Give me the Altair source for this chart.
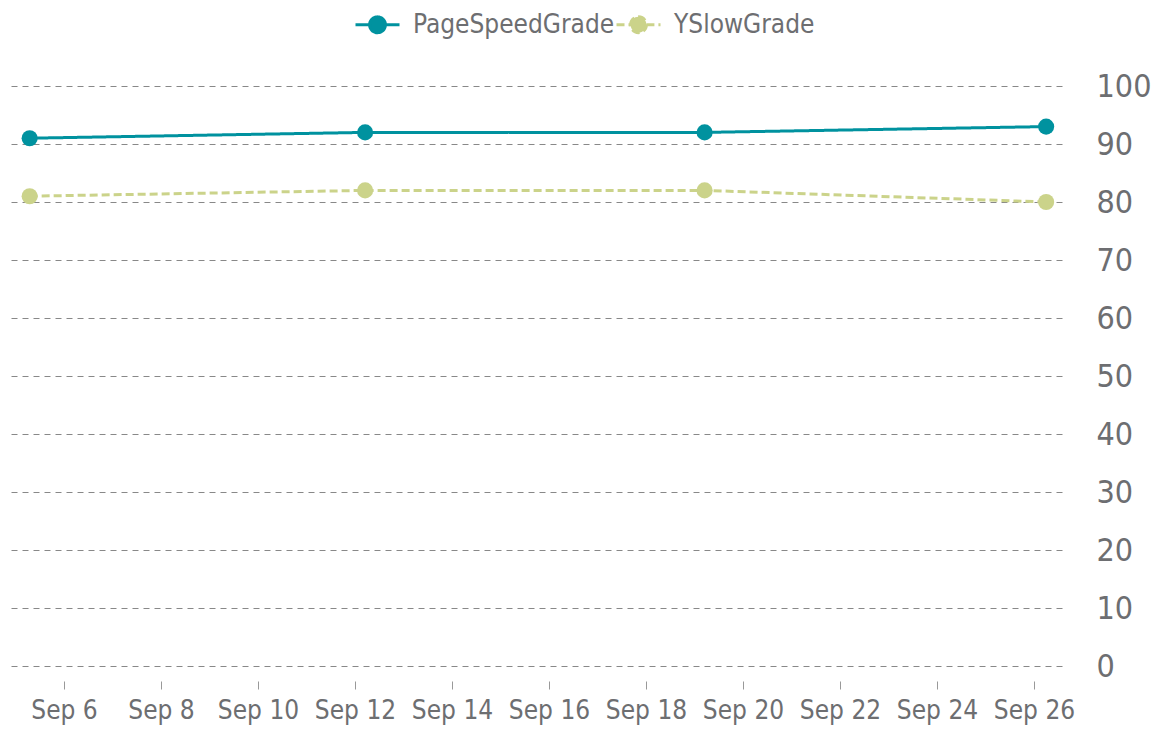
import altair as alt
import pandas as pd

series_names = ["PageSpeedGrade", "YSlowGrade"]
dates = ["2012-09-05T07:00:00Z", "2012-09-12T05:00:00Z", "2012-09-19T05:00:00Z", "2012-09-26T06:00:00Z"]
pagespeed = [91, 92, 92, 93]
yslow = [81, 82, 82, 80]
y_ticks = [0, 10, 20, 30, 40, 50, 60, 70, 80, 90, 100]
x_tick_days = [6, 8, 10, 12, 14, 16, 18, 20, 22, 24, 26]

rows = []
for d, v in zip(dates, pagespeed):
    rows.append({"date": d, "series": series_names[0], "value": v})
for d, v in zip(dates, yslow):
    rows.append({"date": d, "series": series_names[1], "value": v})
df = pd.DataFrame(rows)

FONT = "DejaVu Sans Condensed"
TXT = "#6d6e71"
colors = ["#00929f", "#cbd38a"]

x_values = [alt.DateTime(year=2012, month=9, date=d, utc=True) for d in x_tick_days]
x_domain = [
    alt.DateTime(year=2012, month=9, date=4, hours=20, minutes=17, utc=True),
    alt.DateTime(year=2012, month=9, date=26, hours=13, minutes=51, utc=True),
]

x = alt.X(
    "date:T",
    scale=alt.Scale(type="utc", domain=x_domain),
    axis=alt.Axis(
        values=x_values, format="%b %-d", title=None, grid=False, domain=False,
        ticks=True, tickSize=8, tickColor="#999999", tickWidth=1, offset=15,
        labelFont=FONT, labelFontSize=26, labelColor=TXT, labelPadding=8,
    ),
)
y = alt.Y(
    "value:Q",
    scale=alt.Scale(domain=[0, 100], nice=False),
    axis=alt.Axis(
        orient="right", values=y_ticks, title=None, domain=False, ticks=False,
        grid=True, gridDash=[6, 5], gridColor="#888888", gridWidth=1,
        labelFont=FONT, labelFontSize=32, labelColor=TXT, labelPadding=34,
    ),
)
color = alt.Color(
    "series:N",
    scale=alt.Scale(domain=series_names, range=colors),
    legend=alt.Legend(
        title=None, orient="none", direction="horizontal", legendX=346, legendY=-85,
        labelFont=FONT, labelFontSize=26, labelColor=TXT, labelLimit=400,
        symbolType="M-1,0L-0.36,0M0.36,0L1,0M-0.36,0A0.36,0.36 0 1 1 0.36,0A0.36,0.36 0 1 1 -0.36,0Z",
        symbolSize=1936, symbolStrokeWidth=3, columnPadding=-18, labelOffset=12,
    ),
)
dash = alt.StrokeDash(
    "series:N",
    scale=alt.Scale(domain=series_names, range=[[1, 0], [8, 4]]),
    legend=None,
)

lines = alt.Chart(df).mark_line(strokeWidth=3).encode(x=x, y=y, color=color, strokeDash=dash)
points = alt.Chart(df).mark_point(filled=True, size=260, opacity=1, shape="circle").encode(
    x=x, y=y, color=color
)

chart = (
    alt.layer(lines, points)
    .properties(width=1054, height=580, padding={"left": 0, "top": 78, "right": 90, "bottom": 60},
                autosize=alt.AutoSizeParams(type="none"), background="white")
    .configure_view(strokeWidth=0, stroke="transparent")
)
chart.save("out.html", embed_options={"renderer": "svg", "actions": False})
